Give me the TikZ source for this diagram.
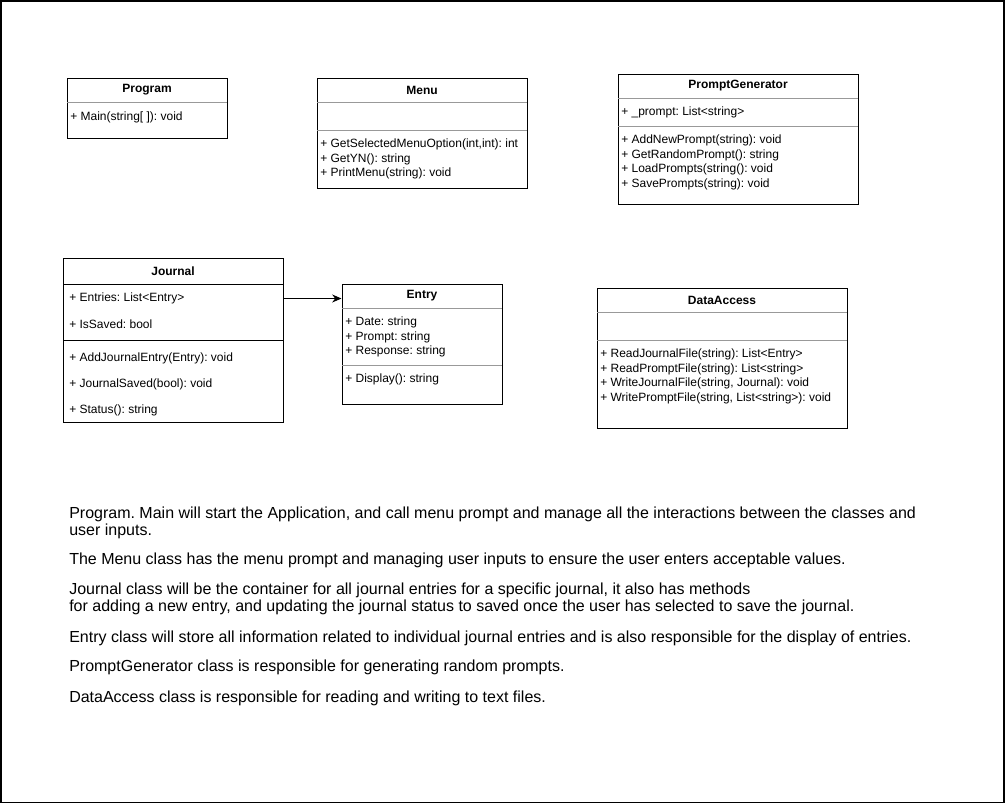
\documentclass[tikz,border=0pt]{standalone}
\usepackage{fontspec}
\setmainfont{Liberation Sans}
\usetikzlibrary{arrows.meta, positioning, fit}
\tikzset{
  classbox/.style={rectangle, draw=black, fill=white, inner sep=0pt, line width=0.75pt},
  ctitle/.style={font=\fontsize{9}{10.5}\selectfont\bfseries, inner sep=0pt},
  member/.style={font=\fontsize{9}{10.5}\selectfont, inner sep=0pt, anchor=west,
                 yshift=-0.75pt},
  divider/.style={draw=#1, line width=0.75pt},
  divider/.default={black!40},
  note/.style={font=\fontsize{12}{12.75}\selectfont, inner sep=0pt,
               anchor=north west, align=left},
  arr/.style={-{Stealth[length=7pt, width=6pt]}, line width=0.75pt},
}
\frenchspacing

\begin{document}
\begin{tikzpicture}[x=0.75pt, y=-0.75pt]
      \useasboundingbox (0,0) rectangle (1005,804);
      \draw[line width=1.2pt] (0.8,0.8) rectangle (1004,802.5);

      % Program
      \node[classbox, fit={(67,78) (227,138)}] (program) {};
      \node[ctitle] (programT) at (147,90) {Program};
      \draw[divider] (67,102) -- (227,102);
      \node[member] (pMain) at (70,116) {+ Main(string[ ]): void};

      % Menu
      \node[classbox, fit={(317,78) (527,188)}] (menu) {};
      \node[ctitle] (menuT) at (422,90) {Menu};
      \draw[divider] (317,102) -- (527,102);
      \draw[divider] (317,130) -- (527,130);
      \node[member] (mSel) at (320,143.5) {+ GetSelectedMenuOption(int,int): int};
      \node[member] (mYN) at (320,158) {+ GetYN(): string};
      \node[member] (mPrint) at (320,172.5) {+ PrintMenu(string): void};

      % PromptGenerator
      \node[classbox, fit={(618,74) (858,204)}] (promptgen) {};
      \node[ctitle] (promptgenT) at (738,86) {PromptGenerator};
      \draw[divider] (618,98) -- (858,98);
      \node[member] (gPrompt) at (621,111.5) {+ \_prompt: List<string>};
      \draw[divider] (618,126) -- (858,126);
      \node[member] (gAdd) at (621,139.5) {+ AddNewPrompt(string): void};
      \node[member] (gRand) at (621,154) {+ GetRandomPrompt(): string};
      \node[member] (gLoad) at (621,168.5) {+ LoadPrompts(string(): void};
      \node[member] (gSave) at (621,183) {+ SavePrompts(string): void};

      % Journal
      \node[classbox, fit={(63,258) (283,422)}] (journal) {};
      \node[ctitle] (journalT) at (173,271) {Journal};
      \draw[divider=black] (63,284) -- (283,284);
      \node[member] (jEntries) at (69,297.5) {+ Entries: List<Entry>};
      \node[member] (jSaved) at (69,323.5) {+ IsSaved: bool};
      \draw[divider=black] (63,340) -- (283,340);
      \node[member] (jAdd) at (69,357.5) {+ AddJournalEntry(Entry): void};
      \node[member] (jStatus) at (69,383.5) {+ JournalSaved(bool): void};
      \node[member] (jStat) at (69,409.5) {+ Status(): string};

      % Entry
      \node[classbox, fit={(342,284) (502,404)}] (entry) {};
      \node[ctitle] (entryT) at (422,296) {Entry};
      \draw[divider] (342,308) -- (502,308);
      \node[member] (eDate) at (345,321.5) {+ Date: string};
      \node[member] (ePrompt) at (345,336) {+ Prompt: string};
      \node[member] (eResp) at (345,350.5) {+ Response: string};
      \draw[divider] (342,365) -- (502,365);
      \node[member] (eDisp) at (345,378.5) {+ Display(): string};

      % DataAccess
      \node[classbox, fit={(597,288) (847,428)}] (dataaccess) {};
      \node[ctitle] (dataaccessT) at (722,300) {DataAccess};
      \draw[divider] (597,312) -- (847,312);
      \draw[divider] (597,340) -- (847,340);
      \node[member] (dRJ) at (600,353.5) {+ ReadJournalFile(string): List<Entry>};
      \node[member] (dRP) at (600,368) {+ ReadPromptFile(string): List<string>};
      \node[member] (dWJ) at (600,382.5) {+ WriteJournalFile(string, Journal): void};
      \node[member] (dWP) at (600,397) {+ WritePromptFile(string, List<string>): void};

      \draw[arr] (jEntries -| journal.east) -- (jEntries -| entry.west);

      % Notes
      \node[note] (nProgram) at (69,506.5) {Program. Main will start the Application, and call menu prompt and manage all the interactions between the classes and\\user inputs.};
      \node[note] (nMenu) at (69,552.5) {The Menu class has the menu prompt and managing user inputs to ensure the user enters acceptable values.};
      \node[note] (nJournal) at (69,582.5) {Journal class will be the container for all journal entries for a specific journal, it also has methods\\for adding a new entry, and updating the journal status to saved once the user has selected to save the journal.};
      \node[note] (nEntry) at (69,630.5) {Entry class will store all information related to individual journal entries and is also responsible for the display of entries.};
      \node[note] (nPromptGen) at (69,659.5) {PromptGenerator class is responsible for generating random prompts.};
      \node[note] (nDataAccess) at (69,690.5) {DataAccess class is responsible for reading and writing to text files.};
    \end{tikzpicture}
\end{document}
